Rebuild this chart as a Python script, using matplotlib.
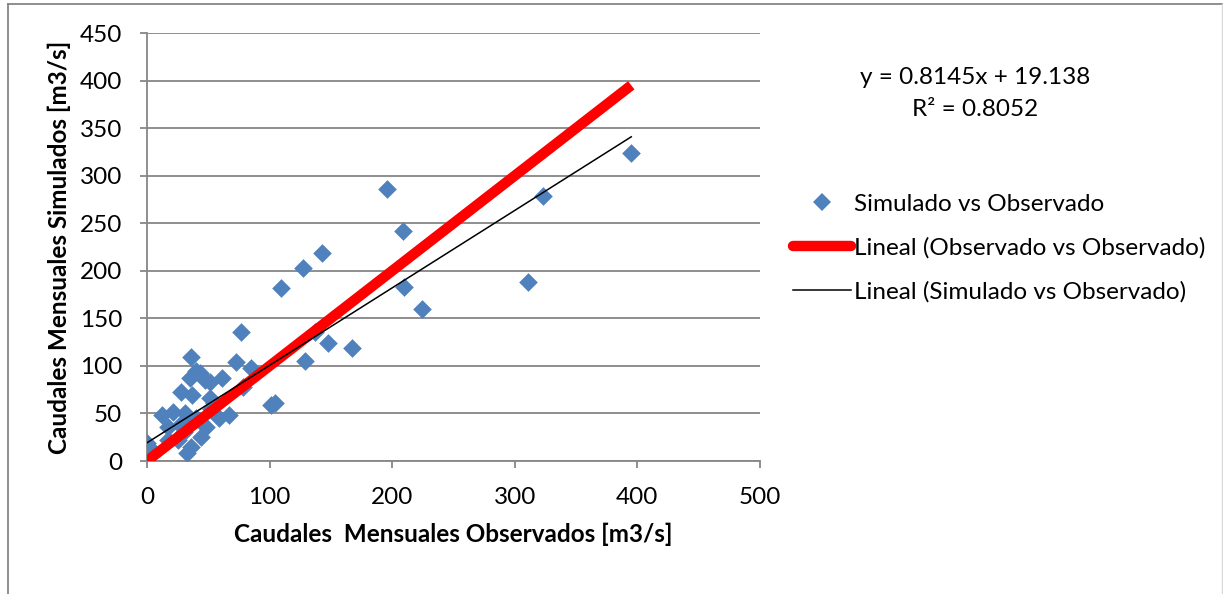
import matplotlib
matplotlib.use('Agg')
import matplotlib.pyplot as plt
from matplotlib.lines import Line2D
import numpy as np

plt.rcParams['font.family'] = ['Lato', 'DejaVu Sans']

# caudales observados vs simulados (m3/s)
observado = [395, 323, 311, 196, 209, 210, 224, 143, 127, 109, 77, 137, 148, 167,
             129, 101, 104, 73, 85, 78, 36, 40, 35, 47, 28, 37, 51, 12, 21, 31,
             17, 27, 35, 0, 6, 17, 25, 36, 33, 44, 48, 55, 61, 51, 67, 59, 43,
             40, 52, 30]
simulado = [324, 279, 188, 286, 242, 183, 160, 219, 203, 182, 136, 136, 124, 119,
            105, 59, 61, 104, 98, 78, 109, 95, 87, 85, 73, 69, 66, 48, 52, 50,
            36, 38, 40, 19, 9, 22, 22, 15, 8, 25, 36, 61, 87, 83, 48, 45, 93,
            45, 55, 30]

# tendencia lineal (Simulado vs Observado) segun Excel
pendiente = 0.8145
intercepto = 19.138
r2 = 0.8052

xticks = [0, 100, 200, 300, 400, 500]
yticks = [0, 50, 100, 150, 200, 250, 300, 350, 400, 450]

fs = 17.5
fig = plt.figure(figsize=(12.23, 5.94), dpi=100)
ax = fig.add_axes([147/1223, 1 - 461/594, (760 - 147)/1223, (461 - 33)/594])

grid_col = '#868686'
ax.scatter(observado, simulado, marker='D', s=9.5**2, color='#4F81BD',
           linewidths=0, zorder=3, label='Simulado vs Observado')

xr = np.array([min(observado), max(observado)])
ax.plot(xr, xr, color='#FF0000', lw=7.5, solid_capstyle='butt', zorder=4,
        label='Lineal (Observado vs Observado)')
ax.plot(xr, pendiente * xr + intercepto, color='black', lw=1.1, zorder=5,
        label='Lineal (Simulado vs Observado)')

ax.set_xlim(0, 500)
ax.set_ylim(0, 450)
ax.set_xticks(xticks)
ax.set_yticks(yticks)
ax.yaxis.grid(True, color=grid_col, lw=1.3)
ax.set_axisbelow(True)
for s in ['top', 'right']:
    ax.spines[s].set_visible(False)
for s in ['left', 'bottom']:
    ax.spines[s].set_color(grid_col)
    ax.spines[s].set_linewidth(1.3)
ax.tick_params(axis='both', colors=grid_col, length=5, width=1.3, labelsize=fs,
               labelcolor='black')
ax.tick_params(axis='y', pad=13)
ax.tick_params(axis='x', pad=14)

ax.set_xlabel('Caudales  Mensuales Observados [m3/s]', fontsize=fs,
              fontweight='bold', labelpad=10)
ax.set_ylabel('Caudales Mensuales Simulados [m3/s]', fontsize=fs,
              fontweight='bold', labelpad=6)

fig.text(975/1223, 1 - 78/594, f'y = {pendiente}x + {intercepto}', fontsize=fs,
         ha='center', va='center')
fig.text(975/1223, 1 - 109/594, f'R² = {r2}', fontsize=fs,
         ha='center', va='center')

handles = [
    Line2D([], [], marker='D', ls='none', color='#4F81BD', ms=9.5, mew=0),
    Line2D([], [], color='#FF0000', lw=7.5, solid_capstyle='round'),
    Line2D([], [], color='black', lw=1.1),
]
labels = ['Simulado vs Observado', 'Lineal (Observado vs Observado)',
          'Lineal (Simulado vs Observado)']
fig.legend(handles, labels, loc='upper left', bbox_to_anchor=(783/1223, 1 - 184/594),
           frameon=False, fontsize=fs, handlelength=2.4, handletextpad=0.12,
           labelspacing=0.92, borderaxespad=0)

# borde del area del grafico
fig.add_artist(Line2D([7.5/1223, 7.5/1223], [0, 1 - 3.5/594], color=grid_col, lw=1.3,
                      transform=fig.transFigure))
fig.add_artist(Line2D([7.5/1223, 1222/1223], [1 - 3.5/594, 1 - 3.5/594], color=grid_col,
                      lw=1.3, transform=fig.transFigure))
fig.add_artist(Line2D([1222/1223, 1222/1223], [0, 1 - 3.5/594], color='#D9D9D9', lw=1,
                      transform=fig.transFigure))

fig.savefig('out.png', dpi=100)
